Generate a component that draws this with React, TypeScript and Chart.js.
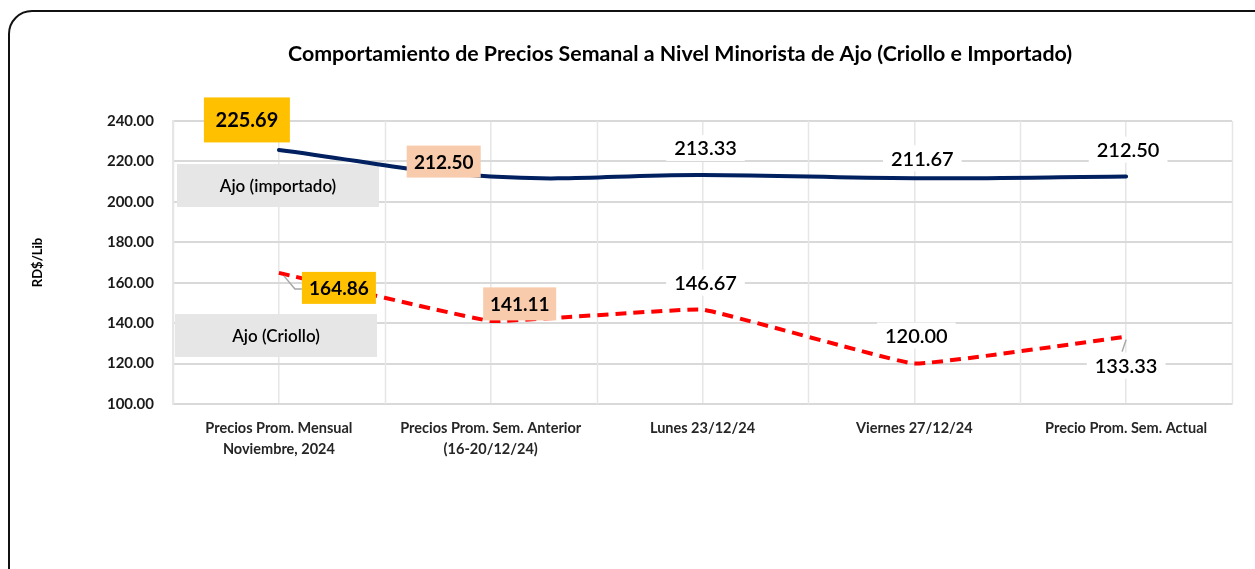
import React, { useEffect, useRef } from "react";
import { Chart, registerables } from "chart.js";

Chart.register(...registerables);

const chartTitle = "Comportamiento de Precios Semanal a Nivel Minorista de Ajo (Criollo e Importado)";
const yAxisTitle = "RD$/Lib";
const categories = [
  ["Precios Prom. Mensual", "Noviembre, 2024"],
  ["Precios Prom. Sem. Anterior", "(16-20/12/24)"],
  ["Lunes 23/12/24"],
  ["Viernes 27/12/24"],
  ["Precio Prom. Sem. Actual"],
];
const seriesNames = ["Ajo (importado)", "Ajo (Criollo)"];
const importado = [225.69, 212.5, 213.33, 211.67, 212.5];
const criollo = [164.86, 141.11, 146.67, 120.0, 133.33];
const yMin = 100;
const yMax = 240;
const yStep = 20;

const FONT = "Lato, 'Open Sans', sans-serif";
const NAVY = "#002060";
const RED = "#FF0000";
const GOLD = "#FFC000";
const PEACH = "#F8CBAD";
const WHITE = "#FFFFFF";
const GREYBOX = "#E7E6E6";

type LabelStyle = {
  dx: number;
  dy: number;
  bg: string;
  weight: string;
  size: number;
  w?: number;
  h?: number;
  leader?: number[][];
};

const importadoLabels: LabelStyle[] = [
  { dx: -32, dy: -30, bg: GOLD, weight: "bold", size: 20, w: 86, h: 45 },
  { dx: -47, dy: -15, bg: PEACH, weight: "bold", size: 19, w: 74, h: 32 },
  { dx: 3, dy: -27, bg: WHITE, weight: "600", size: 20 },
  { dx: 8, dy: -20, bg: WHITE, weight: "600", size: 20 },
  { dx: 2, dy: -27, bg: WHITE, weight: "600", size: 20 },
];
const criolloLabels: LabelStyle[] = [
  { dx: 60, dy: 15, bg: GOLD, weight: "bold", size: 19, w: 74, h: 32, leader: [[5, 3], [16, 16], [23, 16]] },
  { dx: 29, dy: -17, bg: PEACH, weight: "bold", size: 19, w: 73, h: 33 },
  { dx: 3, dy: -27, bg: WHITE, weight: "600", size: 20 },
  { dx: 2, dy: -28, bg: WHITE, weight: "600", size: 20 },
  { dx: 0, dy: 29, bg: WHITE, weight: "600", size: 20, leader: [[0, 3], [-4, 15]] },
];

const overlay = {
  id: "overlay",
  beforeDatasetsDraw(chart: any) {
    const { ctx, chartArea: a, scales } = chart;
    const x = scales.x;
    ctx.save();
    // category boundary gridlines
    ctx.strokeStyle = "#E6E6E6";
    ctx.lineWidth = 1.5;
    for (let i = 0; i <= categories.length; i++) {
      const px = Math.round(x.getPixelForValue(i - 0.5)) + 0.5;
      ctx.beginPath();
      ctx.moveTo(px, a.top);
      ctx.lineTo(px, a.bottom);
      ctx.stroke();
    }
    // series name boxes
    const boxes = [
      { text: seriesNames[0], top: 43, bottom: 86, left: 4 },
      { text: seriesNames[1], top: 193, bottom: 236, left: 2 },
    ];
    ctx.font = `600 17px ${FONT}`;
    ctx.textAlign = "center";
    ctx.textBaseline = "middle";
    for (const b of boxes) {
      const l = a.left + b.left;
      const w = 202;
      ctx.fillStyle = GREYBOX;
      ctx.fillRect(l, a.top + b.top, w, b.bottom - b.top);
      ctx.fillStyle = "#000";
      ctx.fillText(b.text, l + w / 2, a.top + (b.top + b.bottom) / 2 + 1);
    }
    ctx.restore();
  },
  afterDatasetsDraw(chart: any) {
    const { ctx } = chart;
    ctx.save();
    const sets = [
      { values: importado, styles: importadoLabels },
      { values: criollo, styles: criolloLabels },
    ];
    sets.forEach((s, di) => {
      const meta = chart.getDatasetMeta(di);
      s.values.forEach((v, i) => {
        const pt = meta.data[i];
        const st = s.styles[i];
        if (st.leader) {
          ctx.strokeStyle = "#A6A6A6";
          ctx.lineWidth = 1.5;
          ctx.beginPath();
          st.leader.forEach((p, k) => {
            if (k === 0) ctx.moveTo(pt.x + p[0], pt.y + p[1]);
            else ctx.lineTo(pt.x + p[0], pt.y + p[1]);
          });
          ctx.stroke();
        }
        const text = v.toFixed(2);
        ctx.font = `${st.weight} ${st.size}px ${FONT}`;
        const tw = ctx.measureText(text).width;
        const w = st.w ?? tw + 16;
        const h = st.h ?? 26;
        const cx = pt.x + st.dx;
        const cy = pt.y + st.dy;
        ctx.fillStyle = st.bg;
        ctx.fillRect(cx - w / 2, cy - h / 2, w, h);
        ctx.fillStyle = "#000";
        ctx.textAlign = "center";
        ctx.textBaseline = "middle";
        ctx.fillText(text, cx, cy + 1);
      });
    });
    // chart title
    ctx.fillStyle = "#000";
    ctx.textAlign = "center";
    ctx.textBaseline = "middle";
    ctx.font = `bold 20px ${FONT}`;
    const mw = ctx.measureText(chartTitle).width;
    const size = (20 * 784) / mw;
    ctx.font = `bold ${size.toFixed(2)}px ${FONT}`;
    ctx.fillText(chartTitle, 680, 54);
    ctx.restore();
  },
};

export default function App() {
  const ref = useRef<HTMLCanvasElement>(null);
  useEffect(() => {
    const chart = new Chart(ref.current as HTMLCanvasElement, {
      type: "line",
      data: {
        labels: categories as any,
        datasets: [
          {
            label: seriesNames[0],
            data: importado,
            borderColor: NAVY,
            backgroundColor: NAVY,
            borderWidth: 4,
            tension: 0.4,
            pointRadius: 0,
            fill: false,
            borderCapStyle: "round",
          },
          {
            label: seriesNames[1],
            data: criollo,
            borderColor: RED,
            backgroundColor: RED,
            borderWidth: 4,
            borderDash: [11, 7],
            tension: 0.08,
            pointRadius: 0,
            fill: false,
          },
        ],
      },
      options: {
        responsive: false,
        animation: false,
        layout: { padding: { top: 121, right: 23, left: 30, bottom: 0 } },
        plugins: {
          legend: { display: false },
          tooltip: { enabled: false },
          title: { display: false },
        },
        scales: {
          x: {
            offset: true,
            grid: { color: "#E6E6E6", lineWidth: 1.5, drawTicks: false, offset: false },
            border: { display: true, color: "#D9D9D9", width: 2 },
            ticks: {
              font: { family: FONT, size: 14.5, weight: "bold", lineHeight: 1.5 },
              color: "#262626",
              padding: 13,
              maxRotation: 0,
              autoSkip: false,
            },
            afterFit: (s: any) => {
              s.height = 165;
            },
          },
          y: {
            min: yMin,
            max: yMax,
            ticks: {
              stepSize: yStep,
              callback: (v: any) => Number(v).toFixed(2),
              font: { family: FONT, size: 15, weight: "bold" },
              color: "#1a1a1a",
              padding: 19,
            },
            grid: { color: "#D9D9D9", lineWidth: 2, drawTicks: false },
            border: { display: true, color: "#E6E6E6", width: 1.5 },
            title: {
              display: true,
              text: yAxisTitle,
              font: { family: FONT, size: 13, weight: "bold" },
              color: "#000",
              padding: 0,
            },
            afterFit: (s: any) => {
              s.width = 143;
            },
          },
        },
      } as any,
      plugins: [overlay],
    });
    return () => chart.destroy();
  }, []);

  return (
    <div
      style={{
        position: "fixed",
        left: 0,
        top: 0,
        width: 1255,
        height: 569,
        overflow: "hidden",
        background: "#fff",
      }}
    >
      <div
        style={{
          position: "absolute",
          left: 8,
          top: 10,
          width: 1290,
          height: 600,
          border: "2px solid #111",
          borderRadius: 24,
          boxSizing: "border-box",
        }}
      />
      <canvas
        ref={ref}
        width={1255}
        height={569}
        style={{ position: "absolute", left: 0, top: 0, width: 1255, height: 569 }}
      />
    </div>
  );
}
